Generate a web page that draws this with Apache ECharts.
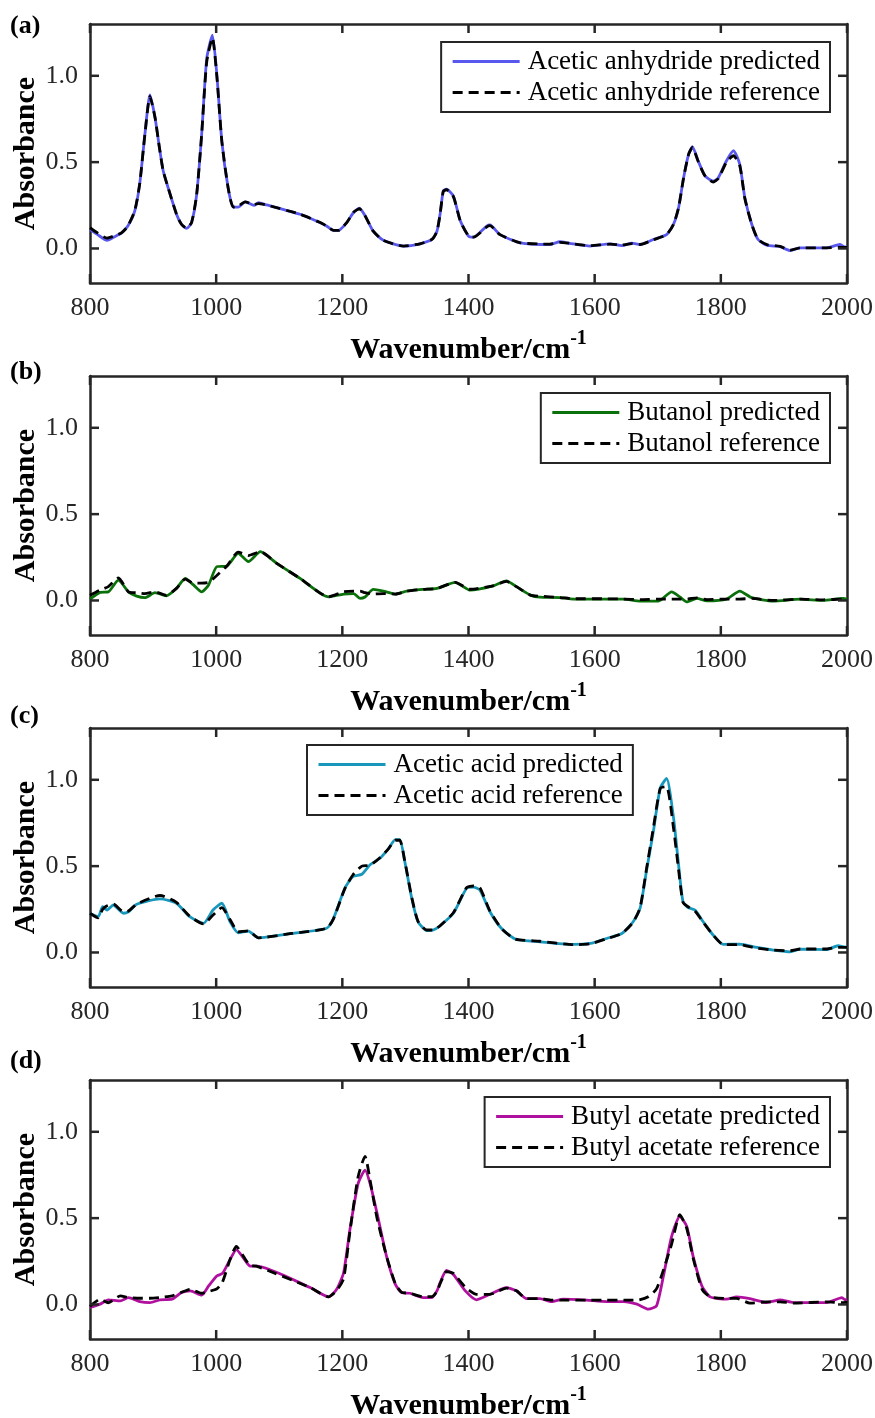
<!DOCTYPE html>
<html>
<head>
<meta charset="utf-8">
<script src="https://cdn.jsdelivr.net/npm/echarts@6/dist/echarts.min.js"></script>
<style>
html,body{margin:0;padding:0;background:#fff}
#wrap{position:relative;width:875px;height:1418px;overflow:hidden;background:#fff}
.pn{position:absolute;left:0;width:875px}
</style>
</head>
<body>
<div id="wrap"><div class="pn" id="p0"></div><div class="pn" id="p1"></div><div class="pn" id="p2"></div><div class="pn" id="p3"></div></div>
<script>
// ---------- DATA ----------
const panelLabels = ['(a)', '(b)', '(c)', '(d)'];
const xTicks = [800, 1000, 1200, 1400, 1600, 1800, 2000];
const yTicks = [0, 0.5, 1.0];
const xTitle = 'Wavenumber/cm';
const xTitleSup = '-1';
const yTitle = 'Absorbance';

const namesA = ['Acetic anhydride predicted', 'Acetic anhydride reference'];
const namesB = ['Butanol predicted', 'Butanol reference'];
const namesC = ['Acetic acid predicted', 'Acetic acid reference'];
const namesD = ['Butyl acetate predicted', 'Butyl acetate reference'];

const xA = [800,812,827,840,850,860,871,879,887,895,903,910,916,924,937,945,953,961,969,977,985,994,1001,1009,1019,1027,1035,1046,1060,1067,1080,1133,1165,1175,1186,1194,1207,1218,1227,1236,1249,1265,1297,1323,1342,1350,1355,1360,1365,1376,1387,1400,1408,1429,1434,1450,1482,1529,1545,1560,1593,1624,1643,1659,1672,1693,1714,1725,1733,1741,1749,1755,1764,1775,1788,1796,1809,1820,1830,1838,1849,1859,1873,1894,1910,1926,1968,1989,1997,2000];
const predA = [0.11,0.08,0.047,0.07,0.09,0.13,0.217,0.38,0.66,0.89,0.76,0.585,0.45,0.35,0.2,0.14,0.116,0.15,0.31,0.66,1.1,1.235,1.01,0.62,0.35,0.24,0.24,0.27,0.25,0.265,0.252,0.198,0.149,0.13,0.105,0.105,0.15,0.21,0.233,0.19,0.1,0.047,0.014,0.027,0.052,0.10,0.2,0.333,0.343,0.304,0.16,0.072,0.066,0.13,0.136,0.08,0.033,0.023,0.039,0.03,0.014,0.027,0.017,0.031,0.023,0.052,0.08,0.14,0.236,0.41,0.546,0.59,0.508,0.42,0.39,0.41,0.508,0.566,0.488,0.295,0.14,0.052,0.019,0.01,-0.012,0.004,0.004,0.023,0.008,0.01];
const refA = [0.12,0.09,0.06,0.075,0.09,0.13,0.22,0.38,0.66,0.88,0.76,0.585,0.45,0.35,0.2,0.14,0.118,0.15,0.31,0.66,1.08,1.22,1.0,0.62,0.35,0.24,0.245,0.27,0.255,0.26,0.252,0.198,0.15,0.13,0.105,0.105,0.15,0.21,0.23,0.19,0.1,0.047,0.014,0.027,0.052,0.10,0.2,0.33,0.34,0.30,0.16,0.072,0.066,0.125,0.132,0.08,0.033,0.025,0.035,0.03,0.016,0.025,0.02,0.028,0.023,0.05,0.08,0.14,0.236,0.41,0.546,0.585,0.505,0.42,0.385,0.405,0.5,0.537,0.48,0.29,0.14,0.052,0.022,0.012,-0.01,0.004,0.004,0.006,0.006,0.006];

const xB = [800,816,829,845,861,874,887,903,921,937,951,964,977,988,1001,1017,1035,1051,1070,1096,1133,1178,1202,1218,1228,1236,1249,1265,1284,1302,1328,1350,1379,1402,1439,1460,1476,1498,1513,1545,1566,1614,1646,1672,1701,1722,1735,1746,1762,1778,1809,1830,1849,1883,1926,1962,1994,2000];
const predB = [0.008,0.047,0.05,0.118,0.05,0.025,0.016,0.045,0.027,0.07,0.128,0.09,0.05,0.09,0.196,0.2,0.273,0.225,0.283,0.215,0.128,0.021,0.037,0.04,0.012,0.02,0.064,0.054,0.037,0.054,0.064,0.07,0.105,0.06,0.085,0.114,0.08,0.031,0.019,0.017,0.008,0.008,0.008,-0.004,-0.004,0.05,0.021,-0.008,0.012,-0.002,0.008,0.054,0.016,-0.004,0.008,0.0,0.012,0.008];
const refB = [0.03,0.06,0.08,0.13,0.05,0.045,0.04,0.05,0.03,0.07,0.124,0.1,0.1,0.105,0.145,0.2,0.28,0.26,0.283,0.215,0.128,0.021,0.05,0.054,0.054,0.045,0.037,0.04,0.037,0.054,0.064,0.07,0.105,0.065,0.085,0.11,0.08,0.031,0.025,0.017,0.01,0.01,0.008,0.005,0.008,0.008,0.008,0.008,0.015,0.005,0.008,0.008,0.012,0.0,0.008,0.004,0.008,0.01];

const xC = [800,813,820,827,837,853,861,874,911,937,958,980,995,1009,1022,1035,1051,1067,1120,1175,1186,1204,1217,1231,1244,1260,1273,1284,1291,1299,1310,1320,1334,1344,1355,1376,1397,1408,1418,1434,1452,1474,1513,1566,1593,1619,1643,1661,1672,1682,1693,1704,1714,1725,1733,1740,1748,1759,1772,1788,1804,1830,1857,1883,1910,1926,1968,1986,1997,2000];
const predC = [0.227,0.207,0.265,0.246,0.275,0.227,0.236,0.279,0.31,0.285,0.207,0.169,0.246,0.285,0.178,0.114,0.124,0.085,0.11,0.14,0.198,0.372,0.44,0.453,0.508,0.547,0.6,0.653,0.653,0.527,0.314,0.178,0.126,0.13,0.155,0.227,0.372,0.378,0.362,0.236,0.14,0.078,0.062,0.047,0.052,0.081,0.11,0.178,0.256,0.469,0.70,0.953,1.008,0.78,0.508,0.295,0.26,0.246,0.178,0.1,0.047,0.048,0.029,0.014,0.004,0.019,0.017,0.039,0.031,0.035];
const refC = [0.227,0.2,0.25,0.27,0.28,0.235,0.24,0.28,0.33,0.29,0.21,0.165,0.217,0.26,0.19,0.12,0.125,0.085,0.11,0.14,0.195,0.37,0.45,0.5,0.505,0.55,0.6,0.65,0.65,0.53,0.32,0.18,0.13,0.13,0.155,0.23,0.375,0.385,0.375,0.24,0.14,0.078,0.065,0.045,0.05,0.08,0.11,0.175,0.26,0.48,0.72,0.95,0.96,0.72,0.48,0.29,0.265,0.24,0.175,0.1,0.045,0.045,0.025,0.014,0.01,0.02,0.02,0.03,0.03,0.03];

const xD = [800,816,829,848,861,879,895,911,930,945,959,977,988,1001,1010,1022,1032,1043,1054,1064,1149,1178,1191,1202,1212,1225,1236,1244,1255,1270,1284,1294,1307,1328,1342,1350,1355,1365,1376,1395,1413,1434,1460,1476,1492,1513,1532,1550,1587,1619,1646,1667,1685,1698,1709,1722,1735,1746,1756,1770,1783,1809,1825,1846,1873,1894,1915,1968,1992,1997,2000];
const predD = [-0.017,0.002,0.027,0.021,0.04,0.017,0.011,0.027,0.031,0.069,0.079,0.054,0.107,0.165,0.18,0.26,0.318,0.27,0.222,0.222,0.098,0.044,0.088,0.184,0.433,0.70,0.778,0.70,0.529,0.28,0.117,0.069,0.065,0.04,0.04,0.079,0.126,0.197,0.174,0.079,0.027,0.059,0.098,0.079,0.034,0.034,0.017,0.031,0.025,0.017,0.017,0.002,-0.027,-0.008,0.165,0.395,0.51,0.452,0.28,0.107,0.044,0.031,0.044,0.034,0.011,0.027,0.011,0.011,0.04,0.027,0.03];
const refD = [-0.011,0.03,0.01,0.05,0.04,0.036,0.036,0.04,0.05,0.07,0.088,0.065,0.075,0.09,0.13,0.26,0.337,0.28,0.225,0.222,0.098,0.044,0.08,0.15,0.42,0.74,0.858,0.72,0.5,0.28,0.12,0.07,0.065,0.045,0.045,0.075,0.12,0.19,0.18,0.1,0.059,0.059,0.095,0.079,0.034,0.034,0.025,0.025,0.025,0.025,0.025,0.025,0.045,0.09,0.2,0.35,0.52,0.44,0.27,0.09,0.044,0.035,0.035,0.008,0.015,0.015,0.008,0.015,0.01,0.012,0.012];

const colors = ['#5858ee', '#0a700a', '#1897bd', '#b0109e'];

// ---------- BUILD ----------
const FONT = "'Liberation Serif', 'Times New Roman', serif";
const AX = '#262626';
const X_MIN = xTicks[0], X_MAX = xTicks[xTicks.length - 1];
const Y_MIN = -0.2, Y_MAX = 1.3;
const TICK_LEN = 9;
const panels = [
  {x: xA, p: predA, r: refA, n: namesA},
  {x: xB, p: predB, r: refB, n: namesB},
  {x: xC, p: predC, r: refC, n: namesC},
  {x: xD, p: predD, r: refD, n: namesD}
];
const GT = 44;
const divTop = [-20, 332, 684, 1036];
const divH = [382, 382, 382, 382];
const legendPos = [
  {right: 45, top: 62},
  {right: 45, top: 61},
  {left: 307, top: 61},
  {right: 45, top: 61}
];
const labelY = [47, 41, 33, 26];

const mkLine = () => ({show: true, onZero: false, lineStyle: {color: AX, width: 2.5}});

// tick marks: tick values placed through the axes' own scales (api.coord)
const tickData = xTicks.map(v => [v, 0]).concat(yTicks.map(v => [v, 1]));
function tickRender(params, api) {
  const v = api.value(0), kind = api.value(1);
  const st = {stroke: AX, lineWidth: 2.5};
  if (kind === 0) {
    const b = api.coord([v, Y_MIN]), t = api.coord([v, Y_MAX]);
    return {type: 'group', children: [
      {type: 'line', shape: {x1: b[0], y1: b[1], x2: b[0], y2: b[1] - TICK_LEN}, style: st},
      {type: 'line', shape: {x1: t[0], y1: t[1], x2: t[0], y2: t[1] + TICK_LEN}, style: st}
    ]};
  }
  const l = api.coord([X_MIN, v]), r = api.coord([X_MAX, v]);
  return {type: 'group', children: [
    {type: 'line', shape: {x1: l[0], y1: l[1], x2: l[0] + TICK_LEN, y2: l[1]}, style: st},
    {type: 'line', shape: {x1: r[0], y1: r[1], x2: r[0] - TICK_LEN, y2: r[1]}, style: st}
  ]};
}

panels.forEach((pn, i) => {
  const el = document.getElementById('p' + i);
  el.style.top = divTop[i] + 'px';
  el.style.height = divH[i] + 'px';
  const option = {
    animation: false,
    grid: {left: 90, width: 757, top: GT, height: 259, outerBoundsMode: 'none'},
    xAxis: [
      {type: 'value', position: 'bottom', min: X_MIN, max: X_MAX, interval: 200,
        splitLine: {show: false}, axisLine: mkLine(), axisTick: {show: false},
        axisLabel: {margin: 12, fontSize: 26, fontFamily: FONT, color: AX, formatter: v => String(v)},
        name: '{m|' + xTitle + '}{s|' + xTitleSup + '}', nameLocation: 'middle', nameGap: 46,
        nameMoveOverlap: false,
        nameTextStyle: {rich: {
          m: {fontSize: 30, fontWeight: 'bold', fontFamily: FONT, color: '#000', lineHeight: 36, verticalAlign: 'bottom'},
          s: {fontSize: 20, fontWeight: 'bold', fontFamily: FONT, color: '#000', lineHeight: 36, verticalAlign: 'top'}
        }}},
      {type: 'value', position: 'top', min: X_MIN, max: X_MAX, interval: 200,
        splitLine: {show: false}, axisLine: mkLine(), axisTick: {show: false}, axisLabel: {show: false}}
    ],
    yAxis: [
      {type: 'value', position: 'left', min: Y_MIN, max: Y_MAX,
        splitLine: {show: false}, axisLine: mkLine(), axisTick: {show: false},
        axisLabel: {customValues: yTicks, margin: 12, fontSize: 26, fontFamily: FONT, color: AX,
          formatter: v => Number(v).toFixed(1)},
        name: yTitle, nameLocation: 'middle', nameGap: 49, nameMoveOverlap: false,
        nameTextStyle: {fontSize: 30, fontWeight: 'bold', fontFamily: FONT, color: '#000'}},
      {type: 'value', position: 'right', min: Y_MIN, max: Y_MAX,
        splitLine: {show: false}, axisLine: mkLine(), axisTick: {show: false},
        axisLabel: {show: false}}
    ],
    series: [
      {name: pn.n[0], type: 'line', xAxisIndex: 0, yAxisIndex: 0,
        data: pn.x.map((v, k) => [v, pn.p[k]]), showSymbol: false, symbol: 'none', smooth: 0.2,
        lineStyle: {color: colors[i], width: 2.8}, itemStyle: {color: colors[i]}},
      {name: pn.n[1], type: 'line', xAxisIndex: 0, yAxisIndex: 0,
        data: pn.x.map((v, k) => [v, pn.r[k]]), showSymbol: false, symbol: 'none', smooth: 0.2,
        lineStyle: {color: '#000', width: 2.8, type: [10, 6]}, itemStyle: {color: '#000'}},
      {name: 'ticks', type: 'custom', xAxisIndex: 0, yAxisIndex: 0, data: tickData,
        renderItem: tickRender, clip: false, silent: true, z: 4}
    ],
    legend: Object.assign({
      data: pn.n, orient: 'vertical', itemWidth: 67, itemHeight: 14, itemGap: 4,
      borderColor: AX, borderWidth: 2, borderRadius: 0, backgroundColor: '#fff',
      padding: [6, 10, 6, 10], selectedMode: false, z: 10,
      itemStyle: {opacity: 0},
      lineStyle: {width: 3},
      textStyle: {fontSize: 27, fontFamily: FONT, color: '#000', padding: [0, 0, 0, 3]}
    }, legendPos[i]),
    graphic: [{type: 'text', left: 10, top: labelY[i] - 14,
      style: {text: panelLabels[i], font: 'bold 26px ' + FONT, fill: '#000'}}]
  };
  const chart = echarts.init(el, null, {renderer: 'canvas'});
  chart.setOption(option);
});
</script>
</body>
</html>
